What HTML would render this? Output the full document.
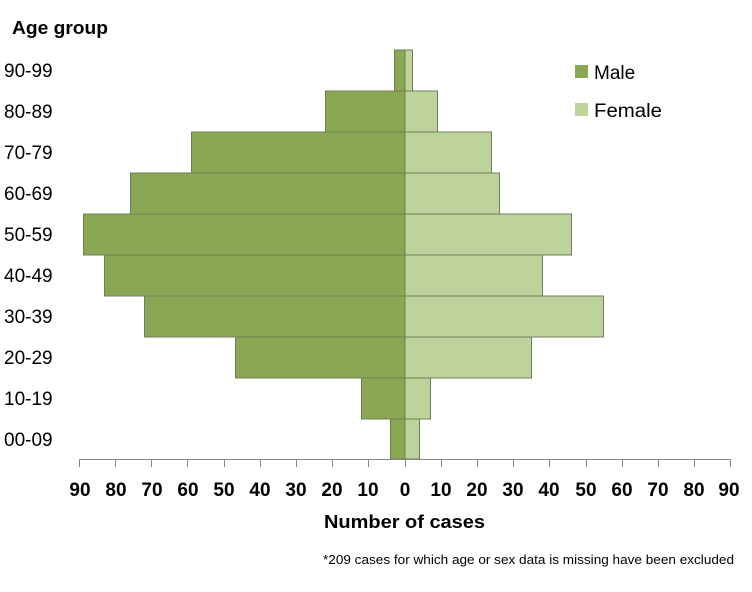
<!DOCTYPE html>
<html><head><style>
body{margin:0;background:#fff;}
svg text{font-family:"Liberation Sans",Calibri,sans-serif;}
</style></head><body>
<svg width="752" height="587" xmlns="http://www.w3.org/2000/svg">
<g stroke="#6f7f55" stroke-width="1">
<rect x="394.5" y="50" width="10.5" height="41" fill="#8aa853"/>
<rect x="325.5" y="91" width="79.5" height="41" fill="#8aa853"/>
<rect x="191.5" y="132" width="213.5" height="41" fill="#8aa853"/>
<rect x="130.5" y="173" width="274.5" height="41" fill="#8aa853"/>
<rect x="83.5" y="214" width="321.5" height="41" fill="#8aa853"/>
<rect x="104.5" y="255" width="300.5" height="41" fill="#8aa853"/>
<rect x="144.5" y="296" width="260.5" height="41" fill="#8aa853"/>
<rect x="235.5" y="337" width="169.5" height="41" fill="#8aa853"/>
<rect x="361.5" y="378" width="43.5" height="41" fill="#8aa853"/>
<rect x="390.5" y="419" width="14.5" height="40" fill="#8aa853"/>
<rect x="405" y="50" width="7.5" height="41" fill="#bdd39b"/>
<rect x="405" y="91" width="32.5" height="41" fill="#bdd39b"/>
<rect x="405" y="132" width="86.5" height="41" fill="#bdd39b"/>
<rect x="405" y="173" width="94.5" height="41" fill="#bdd39b"/>
<rect x="405" y="214" width="166.5" height="41" fill="#bdd39b"/>
<rect x="405" y="255" width="137.5" height="41" fill="#bdd39b"/>
<rect x="405" y="296" width="198.5" height="41" fill="#bdd39b"/>
<rect x="405" y="337" width="126.5" height="41" fill="#bdd39b"/>
<rect x="405" y="378" width="25.5" height="41" fill="#bdd39b"/>
<rect x="405" y="419" width="14.5" height="40" fill="#bdd39b"/>
</g>
<line x1="79" y1="459.5" x2="730" y2="459.5" stroke="#888" stroke-width="1"/>
<g stroke="#888" stroke-width="1">
<line x1="79.5" y1="459" x2="79.5" y2="467"/><line x1="115.5" y1="459" x2="115.5" y2="467"/>
<line x1="151.5" y1="459" x2="151.5" y2="467"/><line x1="187.5" y1="459" x2="187.5" y2="467"/>
<line x1="224.5" y1="459" x2="224.5" y2="467"/><line x1="260.5" y1="459" x2="260.5" y2="467"/>
<line x1="296.5" y1="459" x2="296.5" y2="467"/><line x1="332.5" y1="459" x2="332.5" y2="467"/>
<line x1="368.5" y1="459" x2="368.5" y2="467"/><line x1="405.5" y1="459" x2="405.5" y2="467"/>
<line x1="441.5" y1="459" x2="441.5" y2="467"/><line x1="477.5" y1="459" x2="477.5" y2="467"/>
<line x1="513.5" y1="459" x2="513.5" y2="467"/><line x1="549.5" y1="459" x2="549.5" y2="467"/>
<line x1="586.5" y1="459" x2="586.5" y2="467"/><line x1="622.5" y1="459" x2="622.5" y2="467"/>
<line x1="658.5" y1="459" x2="658.5" y2="467"/><line x1="694.5" y1="459" x2="694.5" y2="467"/>
<line x1="730.5" y1="459" x2="730.5" y2="467"/>
</g>
<g font-size="19" font-weight="bold" fill="#000" text-anchor="middle">
<text x="80" y="496">90</text><text x="116" y="496">80</text><text x="152" y="496">70</text>
<text x="188" y="496">60</text><text x="224" y="496">50</text><text x="260" y="496">40</text>
<text x="296" y="496">30</text><text x="332" y="496">20</text><text x="368" y="496">10</text>
<text x="405" y="496">0</text><text x="441" y="496">10</text><text x="477" y="496">20</text>
<text x="513" y="496">30</text><text x="549" y="496">40</text><text x="586" y="496">50</text>
<text x="622" y="496">60</text><text x="658" y="496">70</text><text x="694" y="496">80</text>
<text x="729" y="496">90</text>
</g>
<text x="324" y="528" font-size="18" font-weight="bold" textLength="161" lengthAdjust="spacingAndGlyphs">Number of cases</text>
<text x="323" y="564" font-size="13" textLength="411" lengthAdjust="spacingAndGlyphs">*209  cases for which age or sex data is missing have been excluded</text>
<text x="12" y="34" font-size="18" font-weight="bold" textLength="96" lengthAdjust="spacingAndGlyphs">Age group</text>
<g font-size="19" fill="#000">
<text x="4" y="77">90-99</text><text x="4" y="118">80-89</text><text x="4" y="159">70-79</text>
<text x="4" y="200">60-69</text><text x="4" y="241">50-59</text><text x="4" y="282">40-49</text>
<text x="4" y="323">30-39</text><text x="4" y="364">20-29</text><text x="4" y="405">10-19</text>
<text x="4" y="446">00-09</text>
</g>
<rect x="575" y="65" width="13" height="13" fill="#8aa853"/>
<text x="594" y="79" font-size="19">Male</text>
<rect x="575" y="103" width="13" height="13" fill="#bdd39b"/>
<text x="594" y="117" font-size="19" textLength="68" lengthAdjust="spacingAndGlyphs">Female</text>
</svg>
</body></html>
